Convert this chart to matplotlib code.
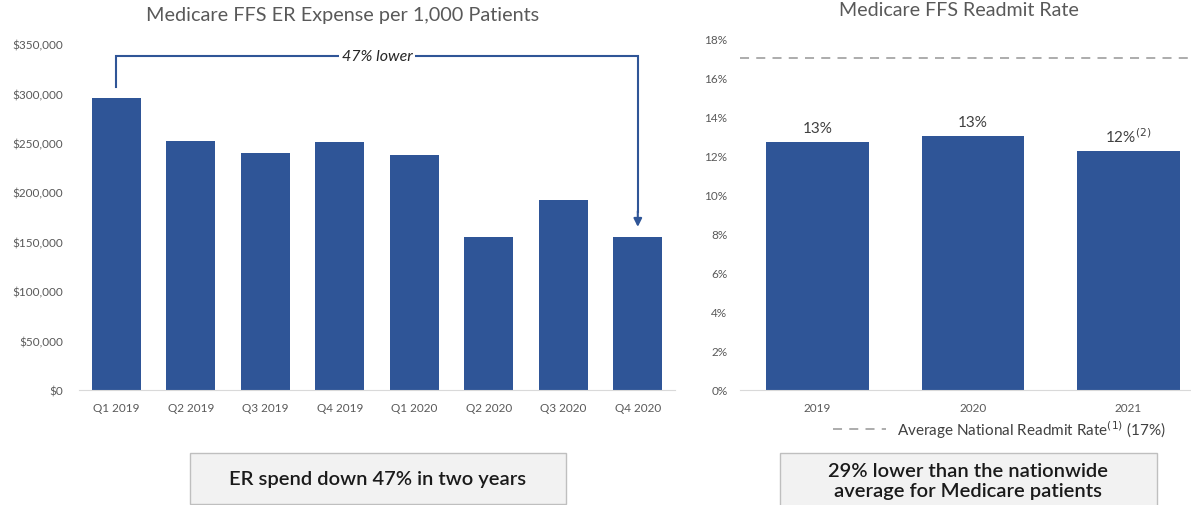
import matplotlib
matplotlib.use("Agg")
import matplotlib.pyplot as plt
from matplotlib.patches import Rectangle
from matplotlib.ticker import FuncFormatter

plt.rcParams['font.family'] = ['Lato', 'DejaVu Sans']

# ER expense per 1,000 patients, by quarter
quarters = ["Q1 2019", "Q2 2019", "Q3 2019", "Q4 2019",
            "Q1 2020", "Q2 2020", "Q3 2020", "Q4 2020"]
er_expense = [295000, 252000, 240000, 251000, 238000, 155000, 192000, 155000]

# Readmit rate by year (%)
years = ["2019", "2020", "2021"]
readmit_rate = [12.7, 13.0, 12.2]
national_avg = 17.0

BLUE = "#2F5597"
GRAY_TXT = "#595959"
GRID = "#d9d9d9"

fig = plt.figure(figsize=(11.91, 5.06), dpi=100)

# ---- left: ER expense ----
ax1 = fig.add_axes([0.0663, 0.2273, 0.5005, 0.6837])
x1 = list(range(len(quarters)))
ax1.bar(x1, er_expense, width=0.66, color=BLUE)
ax1.set_xlim(-0.5, len(quarters) - 0.5)
ax1.set_ylim(0, 350000)
ax1.set_yticks(range(0, 350001, 50000))
ax1.yaxis.set_major_formatter(FuncFormatter(lambda v, p: f"${v:,.0f}"))
ax1.set_xticks(x1)
ax1.set_xticklabels(quarters)
for s in ["top", "right", "left"]:
    ax1.spines[s].set_visible(False)
ax1.spines["bottom"].set_color(GRID)
ax1.tick_params(length=0, colors=GRAY_TXT, labelsize=8.5)
ax1.tick_params(axis="x", pad=9)
ax1.tick_params(axis="y", pad=11.5)
fig.text(0.288, 0.970, "Medicare FFS ER Expense per 1,000 Patients",
         ha="center", va="center", fontsize=14.3, color=GRAY_TXT)

# bracket from first to last quarter
first, last = 0, len(quarters) - 1
y_top = 338000
ax1.plot([first, first, last, last],
         [er_expense[first] + 12000, y_top, y_top, er_expense[last] + 25000],
         color=BLUE, lw=1.5, solid_joinstyle="miter")
ax1.annotate("", xy=(last, er_expense[last] + 10000),
             xytext=(last, er_expense[last] + 26000),
             arrowprops=dict(arrowstyle="-|>", color=BLUE, lw=1.5,
                             mutation_scale=12, shrinkA=0, shrinkB=0))
ax1.text((first + last) / 2, y_top, "47% lower", ha="center", va="center",
         fontsize=11.5, style="italic", color="#262626",
         bbox=dict(facecolor="white", edgecolor="none", pad=2))

# ---- right: readmit rate ----
ax2 = fig.add_axes([0.6213, 0.2273, 0.3913, 0.6956])
x2 = list(range(len(years)))
ax2.bar(x2, readmit_rate, width=0.66, color=BLUE)
ax2.set_xlim(-0.5, len(years) - 0.5)
ax2.set_ylim(0, 18)
ax2.set_yticks(range(0, 19, 2))
ax2.yaxis.set_major_formatter(FuncFormatter(lambda v, p: f"{v:.0f}%"))
ax2.set_xticks(x2)
ax2.set_xticklabels(years)
for s in ["top", "right", "left"]:
    ax2.spines[s].set_visible(False)
ax2.spines["bottom"].set_color(GRID)
ax2.tick_params(length=0, colors=GRAY_TXT, labelsize=8.5)
ax2.tick_params(axis="x", pad=9)
ax2.tick_params(axis="y", pad=9)
ax2.axhline(national_avg, xmin=0.0, xmax=0.99, color="#a6a6a6", lw=1.3,
            dashes=(5, 4))
for i, v in enumerate(readmit_rate):
    lbl = f"{v:.0f}%" + (r"$^{(2)}$" if i == len(readmit_rate) - 1 else "")
    ax2.text(i, v + 0.35, lbl, ha="center", va="bottom", fontsize=11,
             color="#404040")
fig.text(0.805, 0.980, "Medicare FFS Readmit Rate", ha="center", va="center",
         fontsize=14.1, color=GRAY_TXT)

# legend line for national average
fig.add_artist(plt.Line2D([0.699, 0.744], [0.150, 0.150], color="#a6a6a6",
                          lw=1.3, dashes=(5, 4)))
fig.text(0.753, 0.150, r"Average National Readmit Rate$^{(1)}$ (17%)",
         ha="left", va="center", fontsize=11, color="#404040")

# ---- callout boxes ----
def callout(x0, y0, w, h, text, ty=None):
    fig.add_artist(Rectangle((x0, y0), w, h, transform=fig.transFigure,
                             facecolor="#f2f2f2", edgecolor="#bfbfbf", lw=1))
    fig.text(x0 + w / 2, y0 + h / 2 if ty is None else ty, text,
             ha="center", va="center", fontsize=14.5, fontweight="semibold",
             color="#1a1a1a", linespacing=1.25)

callout(0.1595, 0.0020, 0.3157, 0.1008, "ER spend down 47% in two years")
callout(0.6549, -0.02, 0.3165, 0.1228,
        "29% lower than the nationwide\naverage for Medicare patients",
        ty=1 - 481.5 / 506)

fig.savefig("out.png", dpi=100, facecolor="white")
